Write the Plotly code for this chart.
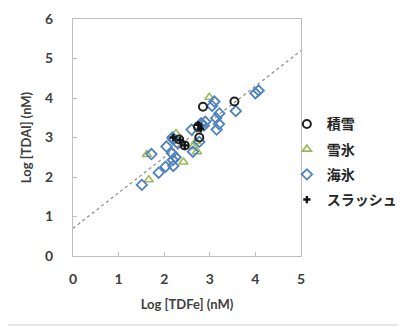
import plotly.graph_objects as go

# Data
snow_x = [2.85, 3.54, 2.45, 2.74, 2.77, 2.33]
snow_y = [3.78, 3.91, 2.80, 3.27, 3.00, 2.95]

snowice_x = [1.62, 1.66, 2.26, 2.42, 2.63, 2.72, 2.99, 2.70]
snowice_y = [2.57, 1.93, 3.10, 2.38, 2.77, 2.64, 4.02, 2.90]

seaice_x = [1.51, 1.72, 1.88, 2.03, 2.05, 2.18, 2.19, 2.20, 2.17, 2.25, 2.63, 2.77, 2.81,
            2.87, 3.10, 3.05, 3.14, 3.21, 3.20, 3.57, 4.00, 4.07, 2.20, 2.30, 2.60, 2.90, 3.15]
seaice_y = [1.80, 2.58, 2.11, 2.26, 2.77, 3.00, 2.43, 2.28, 2.60, 2.50, 2.64, 2.89, 3.36,
            3.30, 3.91, 3.80, 3.49, 3.61, 3.34, 3.67, 4.12, 4.19, 2.95, 2.85, 3.20, 3.40, 3.20]

slush_x = [2.20, 2.35, 2.45, 2.75, 2.80]
slush_y = [3.00, 2.93, 2.80, 3.32, 3.22]

trend_x = [0, 5]
trend_y = [0.70, 5.20]

x_ticks = [0, 1, 2, 3, 4, 5]
y_ticks = [0, 1, 2, 3, 4, 5, 6]

fig = go.Figure()
fig.add_trace(go.Scatter(x=trend_x, y=trend_y, mode="lines",
                         line=dict(color="#8a8a8a", width=1.2, dash="dot"),
                         showlegend=False, hoverinfo="skip"))
fig.add_trace(go.Scatter(x=snowice_x, y=snowice_y, mode="markers", name="雪氷", legendgroup="b",
                         legendrank=2,
                         marker=dict(symbol="triangle-up-open", size=8, color="#9bbb59",
                                     line=dict(width=1.6, color="#9bbb59"))))
fig.add_trace(go.Scatter(x=seaice_x, y=seaice_y, mode="markers", name="海氷", legendgroup="c",
                         legendrank=3,
                         marker=dict(symbol="diamond-open", size=8, color="#4f81bd",
                                     line=dict(width=1.8, color="#4f81bd"))))
fig.add_trace(go.Scatter(x=snow_x, y=snow_y, mode="markers", name="積雪", legendgroup="a",
                         legendrank=1,
                         marker=dict(symbol="circle-open", size=8, color="#222222",
                                     line=dict(width=2, color="#222222"))))
fig.add_trace(go.Scatter(x=slush_x, y=slush_y, mode="markers", name="スラッシュ", legendgroup="d",
                         legendrank=4,
                         marker=dict(symbol="cross", size=6, color="#111111",
                                     line=dict(width=0))))

tickfont = dict(family="Lato", size=14, color="#404040", weight="bold")
fig.update_layout(
    width=398, height=319,
    margin=dict(l=65, r=105, t=11, b=71, autoexpand=False),
    paper_bgcolor="white", plot_bgcolor="white",
    font=dict(family="Lato", color="#404040"),
    xaxis=dict(range=[0, 5], tickvals=x_ticks, ticks="inside", ticklen=4, tickcolor="#bfbfbf",
               showline=True, linecolor="#bfbfbf", linewidth=1, mirror=True,
               showgrid=False, zeroline=False, tickfont=tickfont, ticklabelstandoff=10,
               title=dict(text="Log [TDFe] (nM)", font=dict(family="Lato", size=13, color="#404040", weight="bold"),
                          standoff=14),
               automargin=False),
    yaxis=dict(range=[0, 6], tickvals=y_ticks, ticks="inside", ticklen=4, tickcolor="#bfbfbf",
               showline=True, linecolor="#bfbfbf", linewidth=1, mirror=True,
               showgrid=False, zeroline=False, tickfont=tickfont, ticklabelstandoff=16,
               title=dict(text="Log [TDAl] (nM)", font=dict(family="Lato", size=13, color="#404040", weight="bold"),
                          standoff=10),
               automargin=False),
    legend=dict(x=0.938, xanchor="left", y=0.623, yanchor="top",
                font=dict(family="Noto Sans CJK JP", size=14, color="#262626", weight="bold"),
                tracegroupgap=4, bgcolor="rgba(0,0,0,0)"),
    shapes=[dict(type="line", xref="paper", yref="paper", x0=-0.3, x1=1.47, y0=-0.291, y1=-0.291,
                 line=dict(color="#d0d0d0", width=1))],
)

fig.write_html("out.html")
